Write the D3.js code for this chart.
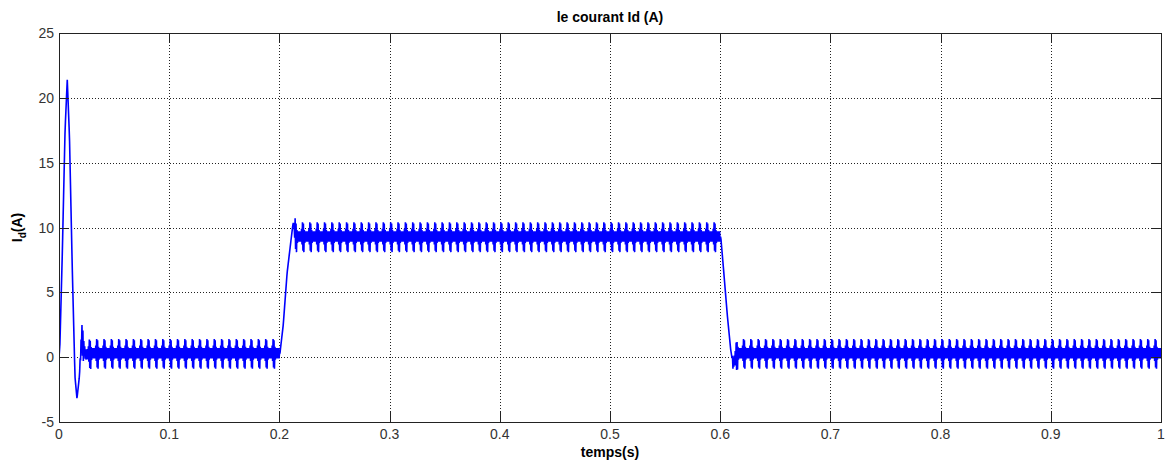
<!DOCTYPE html>
<html>
<head>
<meta charset="utf-8">
<script src="https://cdn.jsdelivr.net/npm/d3@7"></script>
<style>
  body { margin: 0; background: #fff; }
</style>
</head>
<body>
<div id="chart"></div>
<script>
const xTicks = [0, 0.1, 0.2, 0.3, 0.4, 0.5, 0.6, 0.7, 0.8, 0.9, 1];
const yTicks = [-5, 0, 5, 10, 15, 20, 25];

// slow part of Id (s, A)
const baseT = [0, 0.0008, 0.003, 0.0055, 0.0075, 0.0095, 0.012, 0.0145, 0.0163, 0.0185, 0.0205, 0.024, 0.03,
               0.2005, 0.2035, 0.207, 0.2105, 0.2125, 0.215,
               0.6005, 0.603, 0.6065, 0.6095, 0.6115, 0.616, 1];
const baseV = [0, 0.9, 8, 17.5, 21.4, 17, 7, -1.5, -3.2, -1.5, 1.5, 0.2, 0.3,
               0.3, 2.5, 6.5, 9.0, 10.4, 9.3,
               9.3, 6.8, 3.2, 0.6, -0.5, 0.3, 0.3];

// one switching ripple cycle around the mean (A), and its period (s)
const rippleCycle = [0.6, -0.6, 1.1, -1.1, 1.0, -1.2, 0.5, -0.5, 0.4, -0.4, 0.4, -0.4, 0.4, -0.4, 0.4, -0.4];
const ripplePeriod = 0.00667;
// where the ripple is present (s)
const rippleOn = [[0.019, 0.2], [0.2135, 0.6], [0.611, 1]];

const W = 1171, H = 464;
const margin = { left: 59, right: 10, top: 33, bottom: 42 };

const svg = d3.select("#chart").append("svg")
  .attr("width", W)
  .attr("height", H)
  .style("font-family", "'Liberation Sans', Arial, sans-serif");

const x = d3.scaleLinear().domain([0, 1]).range([margin.left, W - margin.right]);
const y = d3.scaleLinear().domain([-5, 25]).range([H - margin.bottom, margin.top]);

const base = d3.scaleLinear().domain(baseT).range(baseV).clamp(true);

const step = ripplePeriod / rippleCycle.length;
const n = Math.round(1 / step);
const pts = [];
for (let i = 0; i <= n; i++) {
  const t = Math.min(1, i * step);
  const on = rippleOn.some(r => t >= r[0] && t <= r[1]);
  pts.push([t, base(t) + (on ? rippleCycle[i % rippleCycle.length] : 0)]);
}

// grid
const grid = svg.append("g")
  .attr("stroke", "#222")
  .attr("stroke-width", 1)
  .attr("stroke-dasharray", "1,2");

grid.selectAll("line.gx")
  .data(xTicks.slice(1, -1))
  .join("line")
  .attr("x1", d => Math.round(x(d)) + 0.5)
  .attr("x2", d => Math.round(x(d)) + 0.5)
  .attr("y1", y(25))
  .attr("y2", y(-5));

grid.selectAll("line.gy")
  .data(yTicks.slice(1, -1))
  .join("line")
  .attr("y1", d => Math.round(y(d)) + 0.5)
  .attr("y2", d => Math.round(y(d)) + 0.5)
  .attr("x1", x(0))
  .attr("x2", x(1));

svg.append("clipPath").attr("id", "clip")
  .append("rect")
  .attr("x", x(0)).attr("y", y(25))
  .attr("width", x(1) - x(0)).attr("height", y(-5) - y(25));

svg.append("path")
  .datum(pts)
  .attr("clip-path", "url(#clip)")
  .attr("fill", "none")
  .attr("stroke", "#0000ff")
  .attr("stroke-width", 1.6)
  .attr("d", d3.line().x(d => x(d[0])).y(d => y(d[1])));

// box and inward ticks on all sides
const tl = 10;
const axes = svg.append("g").attr("stroke", "#222").attr("stroke-width", 1).attr("fill", "none");
axes.append("rect")
  .attr("x", Math.round(x(0)) + 0.5).attr("y", Math.round(y(25)) + 0.5)
  .attr("width", Math.round(x(1) - x(0))).attr("height", Math.round(y(-5) - y(25)));

xTicks.forEach(d => {
  const px = Math.round(x(d)) + 0.5;
  axes.append("line").attr("x1", px).attr("x2", px).attr("y1", y(-5)).attr("y2", y(-5) - tl);
  axes.append("line").attr("x1", px).attr("x2", px).attr("y1", y(25)).attr("y2", y(25) + tl);
});
yTicks.forEach(d => {
  const py = Math.round(y(d)) + 0.5;
  axes.append("line").attr("y1", py).attr("y2", py).attr("x1", x(0)).attr("x2", x(0) + tl);
  axes.append("line").attr("y1", py).attr("y2", py).attr("x1", x(1)).attr("x2", x(1) - tl);
});

svg.append("g")
  .attr("font-size", 14)
  .attr("fill", "#333")
  .attr("text-anchor", "middle")
  .selectAll("text")
  .data(xTicks)
  .join("text")
  .attr("x", d => x(d))
  .attr("y", y(-5) + 17)
  .text(d => d3.format("~g")(d));

svg.append("g")
  .attr("font-size", 14)
  .attr("fill", "#333")
  .attr("text-anchor", "end")
  .selectAll("text")
  .data(yTicks)
  .join("text")
  .attr("x", x(0) - 5)
  .attr("y", d => y(d) + 5)
  .text(d => d);

svg.append("text")
  .attr("x", (x(0) + x(1)) / 2)
  .attr("y", 22)
  .attr("text-anchor", "middle")
  .attr("font-size", 14)
  .attr("font-weight", "bold")
  .text("le courant Id (A)");

svg.append("text")
  .attr("x", (x(0) + x(1)) / 2)
  .attr("y", 457)
  .attr("text-anchor", "middle")
  .attr("font-size", 14)
  .attr("font-weight", "bold")
  .text("temps(s)");

const yl = svg.append("text")
  .attr("transform", `translate(22,${(y(25) + y(-5)) / 2}) rotate(-90)`)
  .attr("text-anchor", "middle")
  .attr("font-size", 14)
  .attr("font-weight", "bold");
yl.append("tspan").text("I");
yl.append("tspan").attr("font-size", 10).attr("dy", 4).text("d");
yl.append("tspan").attr("dy", -4).text("(A)");
</script>
</body>
</html>
